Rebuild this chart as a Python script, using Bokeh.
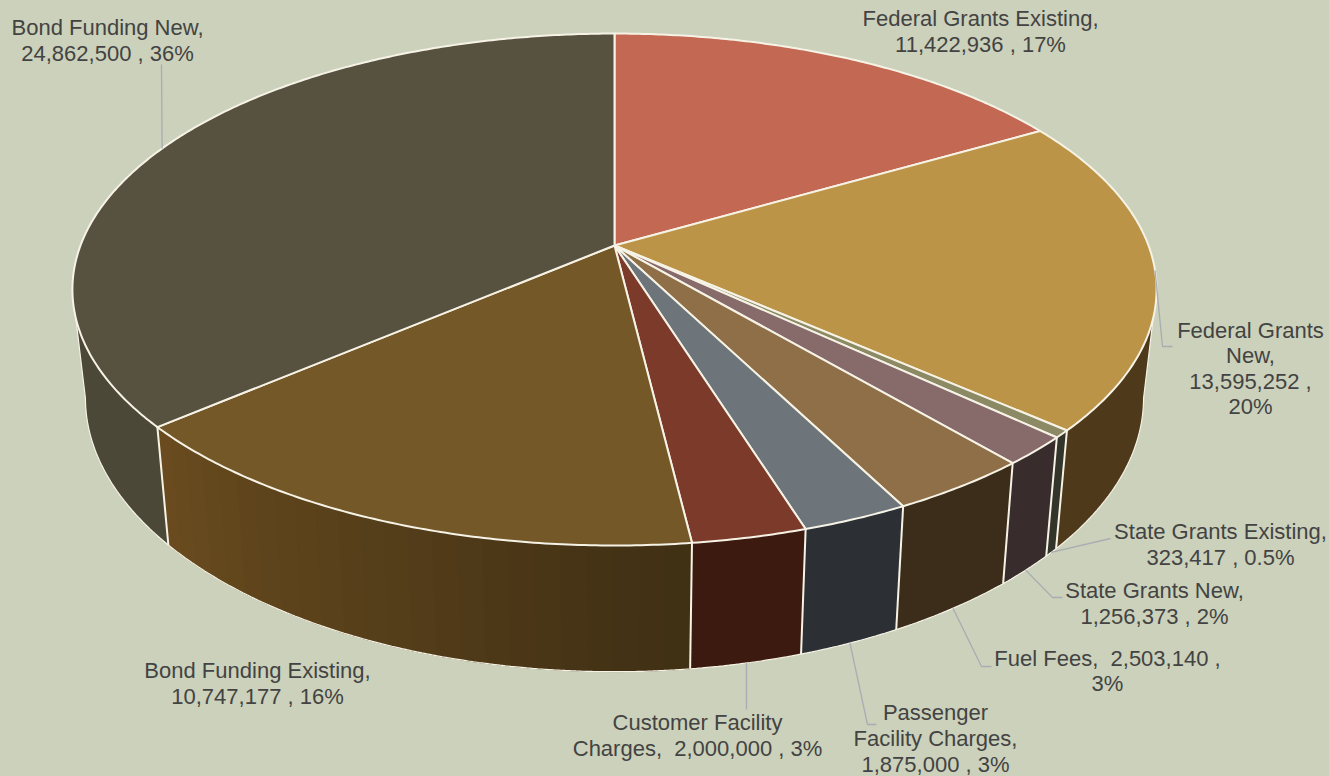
import math
from bokeh.plotting import figure
from bokeh.models import Range1d, ColumnDataSource
from bokeh.core.properties import value
from bokeh.embed import file_html
from bokeh.resources import INLINE

# ---- data (clockwise from 12 o'clock) ----
names = ["Federal Grants Existing", "Federal Grants New", "State Grants Existing", "State Grants New",
         "Fuel Fees", "Passenger Facility Charges", "Customer Facility Charges",
         "Bond Funding Existing", "Bond Funding New"]
amounts = [11422936, 13595252, 323417, 1256373, 2503140, 1875000, 2000000, 10747177, 24862500]

# ---- styles ----
top_colors = ["#c36852", "#bc9448", "#8b8a64", "#876b6b", "#8f6f47", "#6d747a", "#7c3a2a", "#755828", "#575140"]
wall_left = ["#9a5040", "#4e3a1a", "#33352a", "#382c2c", "#3c2c1a", "#2c3034", "#3d1a10", "#6a4c1f", "#4b4838"]
wall_right = ["#9a5040", "#4e3a1a", "#33352a", "#382c2c", "#3c2c1a", "#2c3034", "#3d1a10", "#3f2f14", "#4b4838"]
BG = "#cbd1ba"
EDGE = "#f6f3e6"
LEADER = "#a9acb2"
TEXT = "#434343"
NB = "\u00a0"

# ---- label text: (centre x, [(line, centre y), ...]) ----
labels = [
    (107, [("Bond Funding New,", 27), ("24,862,500 , 36%", 53)]),
    (980, [("Federal Grants Existing,", 18), ("11,422,936 , 17%", 44)]),
    (1250, [("Federal Grants", 330), ("New,", 355), ("13,595,252 ,", 381), ("20%", 406)]),
    (1220, [("State Grants Existing,", 531), ("323,417 , 0.5%", 557)]),
    (1154, [("State Grants New,", 590), ("1,256,373 , 2%", 616)]),
    (1107, [("Fuel Fees," + NB + NB + "2,503,140 ,", 658), ("3%", 683)]),
    (935, [("Passenger", 712), ("Facility Charges,", 738), ("1,875,000 , 3%", 764)]),
    (697, [("Customer Facility", 722), ("Charges," + NB + NB + "2,000,000 , 3%", 748)]),
    (257, [("Bond Funding Existing,", 670), ("10,747,177 , 16%", 696)]),
]

# leader tails after the rim anchor, per slice index; rim: "top" or "bottom"
leaders = {
    8: ("top", [(161, 64)]),
    1: ("top", [(1162, 346), (1172, 346)]),
    2: ("bottom", [(1110, 538)]),
    3: ("bottom", [(1052, 597), (1062, 597)]),
    4: ("bottom", [(981, 666), (991, 666)]),
    5: ("bottom", [(867, 724), (876, 724)]),
    6: ("bottom", [(746, 709)]),
}

# ---- perspective disc projection ----
CX, CY = 614.0, 245.0
A, B, K = 534.0, 248.4, 0.172
VIS0, VIS1 = math.radians(100), math.radians(260)  # part of the wall that can be seen


def top_pt(theta):
    u, v = math.sin(theta), math.cos(theta)
    d = 1 + K * v
    return CX + A * u / d, CY - B * v / d


def bottom_of(x, y):
    return CX + 0.976 * (x - CX), 1.07 * y + 88.0


def bottom_pt(theta):
    return bottom_of(*top_pt(theta))


def hex2rgb(h):
    return tuple(int(h[i:i + 2], 16) for i in (1, 3, 5))


def mix(a, b, t):
    ca, cb = hex2rgb(a), hex2rgb(b)
    return "#%02x%02x%02x" % tuple(round(ca[i] + (cb[i] - ca[i]) * t) for i in range(3))


def wall_poly(t0, t1):
    n = max(2, int((t1 - t0) / math.radians(0.5)))
    ts = [t0 + (t1 - t0) * k / n for k in range(n + 1)]
    tp = [top_pt(t) for t in ts]
    bp = [bottom_pt(t) for t in reversed(ts)]
    return [q[0] for q in tp + bp], [q[1] for q in tp + bp]


total = sum(amounts)
starts, ends = [], []
acc = 0.0
for a in amounts:
    starts.append(acc / total * 2 * math.pi)
    acc += a
    ends.append(acc / total * 2 * math.pi)

p = figure(width=1329, height=776, x_range=Range1d(0, 1329), y_range=Range1d(776, 0),
           toolbar_location=None, output_backend="svg", min_border=0,
           background_fill_color=BG, border_fill_color=BG, outline_line_color=None)
p.axis.visible = False
p.grid.visible = False

# side walls: a base polygon per slice, gradient slices get bands on top
for i in range(len(amounts)):
    t0, t1 = max(starts[i], VIS0), min(ends[i], VIS1)
    if t1 <= t0:
        continue
    xs, ys = wall_poly(t0, t1)
    p.patch(xs, ys, fill_color=mix(wall_left[i], wall_right[i], 0.5), line_color=None)
    if wall_left[i] != wall_right[i]:
        n = 24
        bx, by, bc = [], [], []
        for j in range(n):
            xs, ys = wall_poly(t0 + (t1 - t0) * j / n, t0 + (t1 - t0) * (j + 1) / n)
            bx.append(xs)
            by.append(ys)
            bc.append(mix(wall_right[i], wall_left[i], (j + 0.5) / n))
        p.patches("x", "y", source=ColumnDataSource(dict(x=bx, y=by, c=bc)),
                  fill_color="c", line_color="c", line_width=1)

# wall separators
for i in range(len(amounts)):
    if VIS0 < ends[i] < VIS1:
        a0, b0 = top_pt(ends[i]), bottom_pt(ends[i])
        p.line([a0[0], b0[0]], [a0[1], b0[1]], line_color=EDGE, line_width=2)

# bottom rim with the two side silhouettes
rim = [VIS0 + (VIS1 - VIS0) * k / 320 for k in range(321)]
rx = [top_pt(VIS0)[0]] + [bottom_pt(t)[0] for t in rim] + [top_pt(VIS1)[0]]
ry = [top_pt(VIS0)[1]] + [bottom_pt(t)[1] for t in rim] + [top_pt(VIS1)[1]]
p.line(rx, ry, line_color=EDGE, line_width=1.2)

# top faces
for i in range(len(amounts)):
    n = max(4, int((ends[i] - starts[i]) / math.radians(0.5)))
    pts = [top_pt(starts[i] + (ends[i] - starts[i]) * k / n) for k in range(n + 1)]
    xs = [CX] + [q[0] for q in pts]
    ys = [CY] + [q[1] for q in pts]
    p.patch(xs, ys, fill_color=top_colors[i], line_color=EDGE, line_width=2, line_join="round")

# leader lines
for i, (rim_name, tail) in leaders.items():
    mid = (starts[i] + ends[i]) / 2
    q = top_pt(mid) if rim_name == "top" else bottom_pt(mid)
    p.line([q[0]] + [t[0] for t in tail], [q[1]] + [t[1] for t in tail],
           line_color=LEADER, line_width=1.3)

# labels
tx, ty, tt = [], [], []
for cx, lines in labels:
    for s, y in lines:
        tx.append(cx)
        ty.append(y)
        tt.append(s)
p.text(tx, ty, text=tt, text_font=value("Liberation Sans"), text_font_size="22px",
       text_color=TEXT, text_align="center", text_baseline="middle")

html = file_html(p, INLINE)
html = html.replace("</head>", "<style>html,body{margin:0;padding:0;background:%s;overflow:hidden}</style></head>" % BG, 1)
open("out.html", "w").write(html)
